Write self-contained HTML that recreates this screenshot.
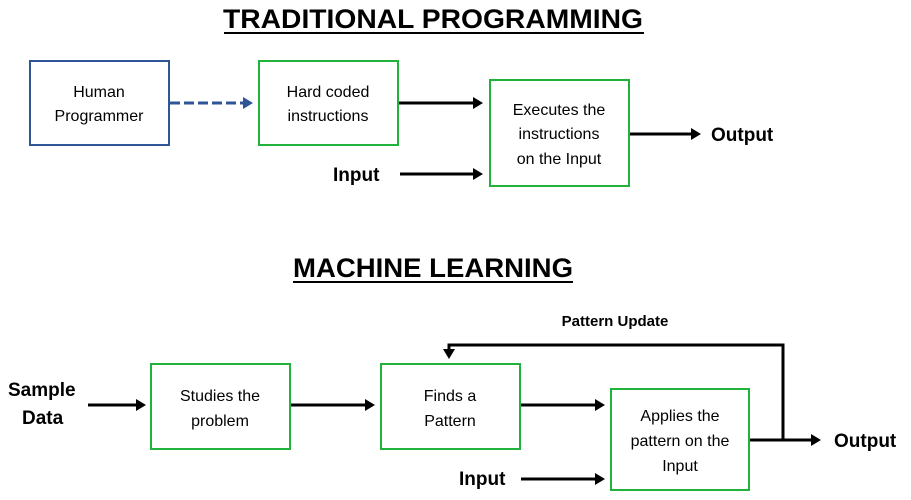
<!DOCTYPE html>
<html><head><style>body{margin:0;background:#fff}svg{display:block}</style></head><body>
<svg width="911" height="500" viewBox="0 0 911 500" xmlns="http://www.w3.org/2000/svg" font-family="Liberation Sans, sans-serif">
<defs>
<marker id="a" markerWidth="10" markerHeight="12" refX="7" refY="6" orient="auto" markerUnits="userSpaceOnUse"><path d="M0,0 L10,6 L0,12 Z" fill="#000"/></marker>
<marker id="b" markerWidth="10" markerHeight="12" refX="7" refY="6" orient="auto" markerUnits="userSpaceOnUse"><path d="M0,0 L10,6 L0,12 Z" fill="#2f5597"/></marker>
</defs>
<text x="433" y="28" text-anchor="middle" font-size="27" font-weight="bold" textLength="420" lengthAdjust="spacingAndGlyphs">TRADITIONAL PROGRAMMING</text>
<rect x="224" y="32" width="420" height="2" fill="#000"/>
<rect x="30" y="61" width="139" height="84" fill="none" stroke="#2f5597" stroke-width="2"/>
<rect x="259" y="61" width="139" height="84" fill="none" stroke="#22b13a" stroke-width="2"/>
<rect x="490" y="80" width="139" height="106" fill="none" stroke="#22b13a" stroke-width="2"/>
<g font-size="16" text-anchor="middle">
<text x="99" y="97">Human</text><text x="99" y="121">Programmer</text>
<text x="328" y="97">Hard coded</text><text x="328" y="121">instructions</text>
<text x="559" y="115">Executes the</text><text x="559" y="139">instructions</text><text x="559" y="164">on the Input</text>
</g>
<line x1="170" y1="103" x2="250" y2="103" stroke="#2f5597" stroke-width="3" stroke-dasharray="10,4" marker-end="url(#b)"/>
<g stroke="#000" stroke-width="3">
<line x1="399" y1="103" x2="480" y2="103" marker-end="url(#a)"/>
<line x1="400" y1="174" x2="480" y2="174" marker-end="url(#a)"/>
<line x1="630" y1="134" x2="698" y2="134" marker-end="url(#a)"/>
</g>
<g font-size="19" font-weight="bold">
<text x="333" y="181">Input</text>
<text x="711" y="141">Output</text>
</g>
<text x="433" y="277" text-anchor="middle" font-size="27" font-weight="bold" textLength="280" lengthAdjust="spacingAndGlyphs">MACHINE LEARNING</text>
<rect x="293" y="281" width="280" height="2" fill="#000"/>
<text x="615" y="326" text-anchor="middle" font-size="15" font-weight="bold">Pattern Update</text>
<rect x="151" y="364" width="139" height="85" fill="none" stroke="#22b13a" stroke-width="2"/>
<rect x="381" y="364" width="139" height="85" fill="none" stroke="#22b13a" stroke-width="2"/>
<rect x="611" y="389" width="138" height="101" fill="none" stroke="#22b13a" stroke-width="2"/>
<g font-size="16" text-anchor="middle">
<text x="220" y="401">Studies the</text><text x="220" y="426">problem</text>
<text x="450" y="401">Finds a</text><text x="450" y="426">Pattern</text>
<text x="680" y="421">Applies the</text><text x="680" y="446">pattern on the</text><text x="680" y="471">Input</text>
</g>
<g font-size="19" font-weight="bold">
<text x="8" y="396">Sample</text><text x="22" y="424">Data</text>
<text x="459" y="485">Input</text>
<text x="834" y="447">Output</text>
</g>
<g stroke="#000" stroke-width="3" fill="none">
<line x1="88" y1="405" x2="143" y2="405" marker-end="url(#a)"/>
<line x1="291" y1="405" x2="372" y2="405" marker-end="url(#a)"/>
<line x1="521" y1="405" x2="602" y2="405" marker-end="url(#a)"/>
<line x1="521" y1="479" x2="602" y2="479" marker-end="url(#a)"/>
<line x1="750" y1="440" x2="818" y2="440" marker-end="url(#a)"/>
<polyline points="783,440 783,345 449,345 449,356" marker-end="url(#a)"/>
</g>
</svg>
</body></html>
